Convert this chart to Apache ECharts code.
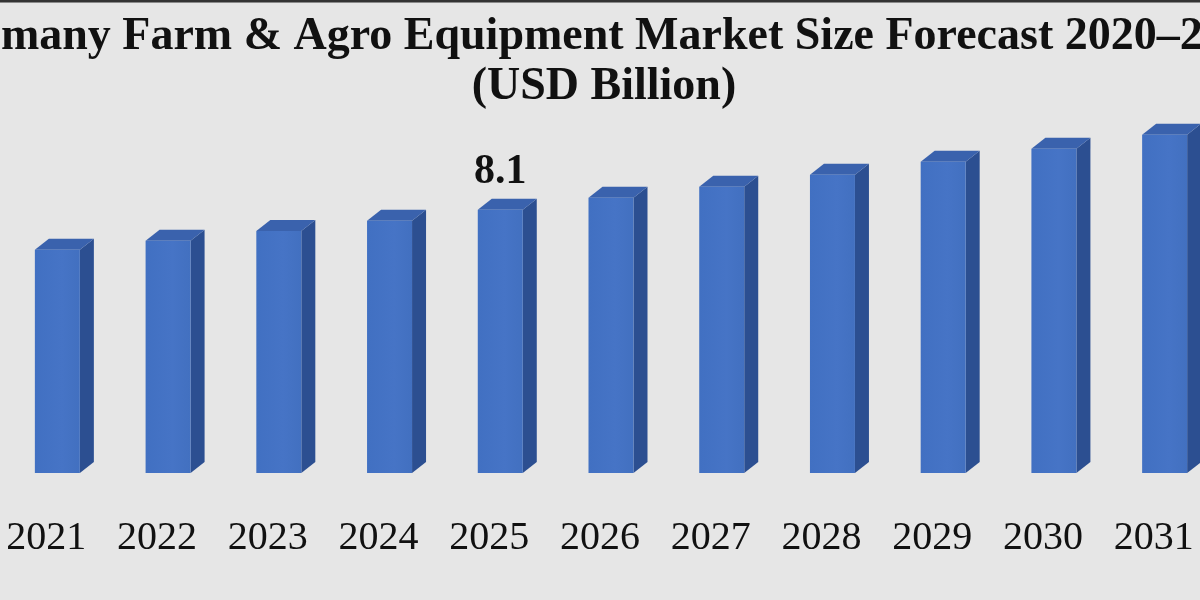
<!DOCTYPE html>
<html>
<head>
<meta charset="utf-8">
<script src="https://cdn.jsdelivr.net/npm/echarts@6/dist/echarts.min.js"></script>
<style>
html,body{margin:0;padding:0;background:#e6e6e6;}
#chart{width:1200px;height:600px;}
</style>
</head>
<body>
<div id="chart"></div>
<script>
const titleLine1 = 'Germany Farm & Agro Equipment Market Size Forecast 2020\u20132032';
const titleLine2 = '(USD Billion)';
const years = ['2021','2022','2023','2024','2025','2026','2027','2028','2029','2030','2031'];
const marketSize = [6.87, 7.15, 7.45, 7.76, 8.1, 8.47, 8.81, 9.18, 9.58, 9.98, 10.41];
const labeledYears = ['2025'];

const SIDE = '#2c4f91', TOP = '#3a62ad';
const titleStyle = {
  fontFamily: 'Liberation Serif',
  fontWeight: 'bold',
  fontSize: 46,
  lineHeight: 50,
  color: '#111'
};

const chart = echarts.init(document.getElementById('chart'));
chart.setOption({
  backgroundColor: '#e6e6e6',
  animation: false,
  title: [
    {text: titleLine1, left: 598, textAlign: 'center', top: 12, padding: 0, textStyle: titleStyle},
    {text: titleLine2, left: 604, textAlign: 'center', top: 62, padding: 0, textStyle: titleStyle}
  ],
  graphic: [
    {type: 'rect', shape: {x: 0, y: 0, width: 1200, height: 2}, style: {fill: '#333'}},
    {type: 'rect', shape: {x: 0, y: 2, width: 1200, height: 1}, style: {fill: '#8a8a8a'}}
  ],
  grid: {left: -9, width: 1218, top: 83, bottom: 127, containLabel: false, outerBoundsMode: 'none'},
  xAxis: {
    type: 'category',
    data: years,
    axisLine: {show: false},
    axisTick: {show: false},
    axisLabel: {
      margin: 45,
      fontFamily: 'Liberation Serif',
      fontSize: 40,
      color: '#111'
    }
  },
  yAxis: {
    type: 'value',
    min: 0,
    max: 12,
    show: false,
    splitLine: {show: false}
  },
  series: [{
    type: 'custom',
    data: years.map((y, i) => [i, marketSize[i]]),
    renderItem: function (params, api) {
      const idx = api.value(0), v = api.value(1);
      const top = api.coord([idx, v]);
      const base = api.coord([idx, 0]);
      const w = 45, dx = 14, dy = 11, shift = 11;
      const l = top[0] - w / 2 + shift, r = top[0] + w / 2 + shift;
      const t = top[1], b = base[1];
      const children = [
        {type: 'polygon', shape: {points: [[r, b], [r + dx, b - dy], [r + dx, t - dy], [r, t]]}, style: {fill: SIDE}},
        {type: 'polygon', shape: {points: [[l, t], [l + dx, t - dy], [r + dx, t - dy], [r, t]]}, style: {fill: TOP}},
        {type: 'rect', shape: {x: l, y: t, width: w, height: b - t},
          style: {fill: new echarts.graphic.LinearGradient(0, 0, 1, 0, [
            {offset: 0, color: '#4170c2'}, {offset: 0.6, color: '#4674c6'}, {offset: 1, color: '#4270c0'}])}}
      ];
      if (labeledYears.indexOf(years[idx]) >= 0) {
        children.push({
          type: 'text',
          style: {
            x: (l + r) / 2, y: t - dy - 6,
            text: String(v),
            align: 'center', verticalAlign: 'bottom',
            fontFamily: 'Liberation Serif', fontWeight: 'bold', fontSize: 42, fill: '#111'
          }
        });
      }
      return {type: 'group', children: children};
    }
  }]
});
</script>
</body>
</html>
